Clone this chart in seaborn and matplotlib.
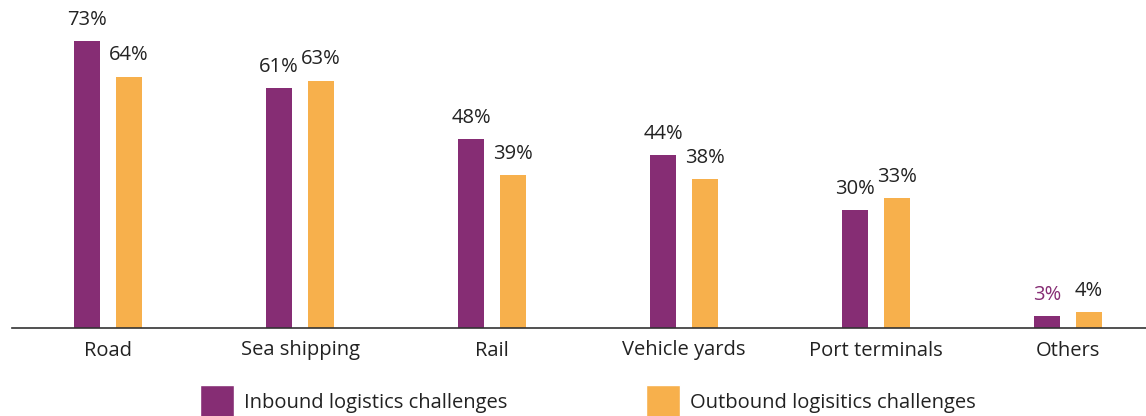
import numpy as np
import pandas as pd
import matplotlib
matplotlib.use("Agg")
import matplotlib.pyplot as plt
import seaborn as sns
from matplotlib.patches import Patch

# data
categories = ["Road", "Sea shipping", "Rail", "Vehicle yards", "Port terminals", "Others"]
inbound = [73, 61, 48, 44, 30, 3]
outbound = [64, 63, 39, 38, 33, 4]
series_names = ["Inbound logistics challenges", "Outbound logisitics challenges"]

purple = "#862D74"
orange = "#F7B04C"

df = pd.DataFrame({"category": categories * 2,
                   "value": inbound + outbound,
                   "series": [series_names[0]] * len(categories) + [series_names[1]] * len(categories)})

sns.set_style("white")
plt.rcParams['font.family'] = ['Open Sans', 'DejaVu Sans']

fig = plt.figure(figsize=(11.46, 4.16), dpi=100)
ax = fig.add_axes([12 / 1146, 88 / 416, 1134 / 1146, 328 / 416])

sns.barplot(data=df, x="category", y="value", hue="series", order=categories,
            palette=[purple, orange], width=0.4375, gap=0.36, ax=ax, legend=False,
            saturation=1, linewidth=0)

ax.set_xlim(-0.5, 5.406)
ax.set_ylim(0, 83.5)
ax.set_xlabel("")
ax.set_ylabel("")
ax.set_yticks([])
ax.tick_params(axis="x", length=0, labelsize=14.5, colors="#222222", pad=9)
for s in ["top", "left", "right"]:
    ax.spines[s].set_visible(False)
ax.spines["bottom"].set_color("#333333")
ax.spines["bottom"].set_linewidth(1.2)

for cont in ax.containers:
    texts = ax.bar_label(cont, labels=[f"{int(v)}%" for v in cont.datavalues],
                         padding=8, fontsize=14.5, color="#222222")
    for t, v in zip(texts, cont.datavalues):
        if v == 3:
            t.set_color(purple)

handles = [Patch(facecolor=purple), Patch(facecolor=orange)]
fig.legend(handles, series_names, loc="center", bbox_to_anchor=(0.513, 0.035), ncol=2,
           frameon=False, fontsize=14.5, handlelength=1.66, handleheight=2.1,
           handletextpad=0.5, columnspacing=6.9, labelcolor="#222222")

fig.savefig("out.png", dpi=100)
